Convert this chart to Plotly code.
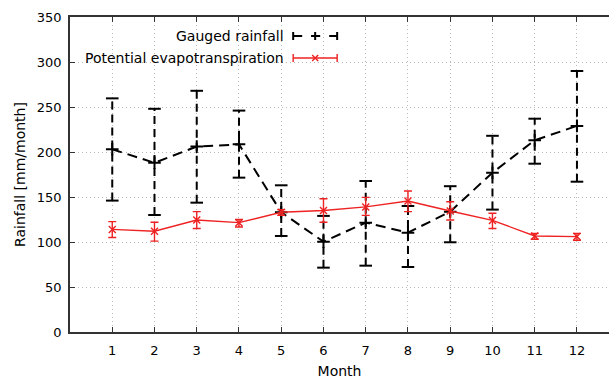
import plotly.graph_objects as go

months = list(range(1, 13))
rain = [203, 188, 206, 208.5, 133, 100.4, 121.5, 110.4, 133.7, 177, 213, 229]
rain_hi = [259.6, 248, 268, 246, 163, 129, 167.8, 140, 162, 218, 237, 290]
rain_lo = [146, 130, 143.7, 171.5, 106.7, 71.5, 73.7, 72.2, 99.7, 136, 187, 167]
pet = [114, 112, 124.4, 121.5, 133, 135, 139, 145.5, 134.4, 124, 106.7, 106]
pet_hi = [122.6, 122, 133.7, 125, 136, 148, 149.6, 156.7, 144.8, 132, 109.6, 109.6]
pet_lo = [105, 101, 115, 116.7, 129.6, 122, 129.6, 133.7, 124.4, 115, 103, 102]
yticks = [0, 50, 100, 150, 200, 250, 300, 350]

FONT = "DejaVu Sans"
RED = "#ee2222"
fig = go.Figure()

# Rainfall dashed error bars
ex, ey = [], []
for m, lo, hi in zip(months, rain_lo, rain_hi):
    ex += [m, m, None]
    ey += [lo, hi, None]
fig.add_trace(go.Scatter(x=ex, y=ey, mode="lines",
                         line=dict(color="black", width=2, dash="8px,5px"),
                         hoverinfo="skip", showlegend=False))
fig.add_trace(go.Scatter(x=months + months, y=rain_hi + rain_lo, mode="markers",
                         marker=dict(symbol="line-ew-open", size=9, color="black",
                                     line=dict(color="black", width=2)),
                         hoverinfo="skip", showlegend=False))
fig.add_trace(go.Scatter(x=months, y=rain, mode="lines+markers",
                         name="Gauged rainfall",
                         line=dict(color="black", width=2, dash="10px,6px"),
                         marker=dict(symbol="cross-thin-open", size=9, color="black",
                                     line=dict(color="black", width=2)),
                         showlegend=False))

# PET
fig.add_trace(go.Scatter(x=months, y=pet, mode="lines+markers",
                         name="Potential evapotranspiration",
                         line=dict(color=RED, width=1.4),
                         marker=dict(symbol="x-thin-open", size=7, color=RED,
                                     line=dict(color=RED, width=1.4)),
                         error_y=dict(type="data", symmetric=False,
                                      array=[h - v for h, v in zip(pet_hi, pet)],
                                      arrayminus=[v - l for v, l in zip(pet, pet_lo)],
                                      color=RED, thickness=1.4, width=4),
                         showlegend=False))

# Custom gnuplot-style key
W, H = 609, 381
L, T, B = 69.7, 17, 49
pw, ph = W - L, H - T - B
def px(xp):
    return (xp - L) / pw
def py(yp):
    return (H - B - yp) / ph
def seg(x0, y0, x1, y1, col, wd, dash="solid"):
    fig.add_shape(type="line", xref="paper", yref="paper",
                  x0=px(x0), x1=px(x1), y0=py(y0), y1=py(y1),
                  line=dict(color=col, width=wd, dash=dash))

key = [("Gauged rainfall", 36, "black", "dash", 2),
       ("Potential evapotranspiration", 58, RED, "solid", 1.4)]
for text, yp, col, dash, wd in key:
    fig.add_annotation(x=px(286), y=py(yp), xref="paper", yref="paper",
                       text=text, showarrow=False, xanchor="right", yanchor="middle",
                       font=dict(family=FONT, size=14, color="black"))
    seg(293, yp, 337, yp, col, wd, dash)
    for xc in (293, 337):
        seg(xc, yp - 4, xc, yp + 4, col, wd)
# key symbols
seg(311, 36, 319, 36, "black", 2)
seg(315, 32, 315, 40, "black", 2)
seg(312, 55, 318, 61, RED, 1.4)
seg(312, 61, 318, 55, RED, 1.4)

fig.update_layout(
    width=W, height=H,
    margin=dict(l=L, r=0, t=T, b=B),
    plot_bgcolor="white", paper_bgcolor="white",
    font=dict(family=FONT, size=13, color="black"),
    xaxis=dict(range=[0, (W - L) / 42.27], tickvals=months,
               ticks="inside", ticklen=5, tickcolor="#333333", tickwidth=1,
               showline=True, linecolor="#333333", linewidth=1.5, mirror="ticks",
               showgrid=True, gridcolor="#b8b8b8", griddash="1px,3px", gridwidth=1,
               zeroline=False, ticklabelstandoff=6,
               title=dict(text="Month", font=dict(family=FONT, size=14), standoff=9),
               tickfont=dict(family=FONT, size=13)),
    yaxis=dict(range=[0, 350], tickvals=yticks,
               ticks="inside", ticklen=5, tickcolor="#333333", tickwidth=1,
               showline=True, linecolor="#333333", linewidth=1.5,
               showgrid=True, gridcolor="#b8b8b8", griddash="1px,3px", gridwidth=1,
               zeroline=False, ticklabelstandoff=4,
               title=dict(text="Rainfall [mm/month]", font=dict(family=FONT, size=14), standoff=8),
               tickfont=dict(family=FONT, size=13)),
)

fig.write_html("out.html")
